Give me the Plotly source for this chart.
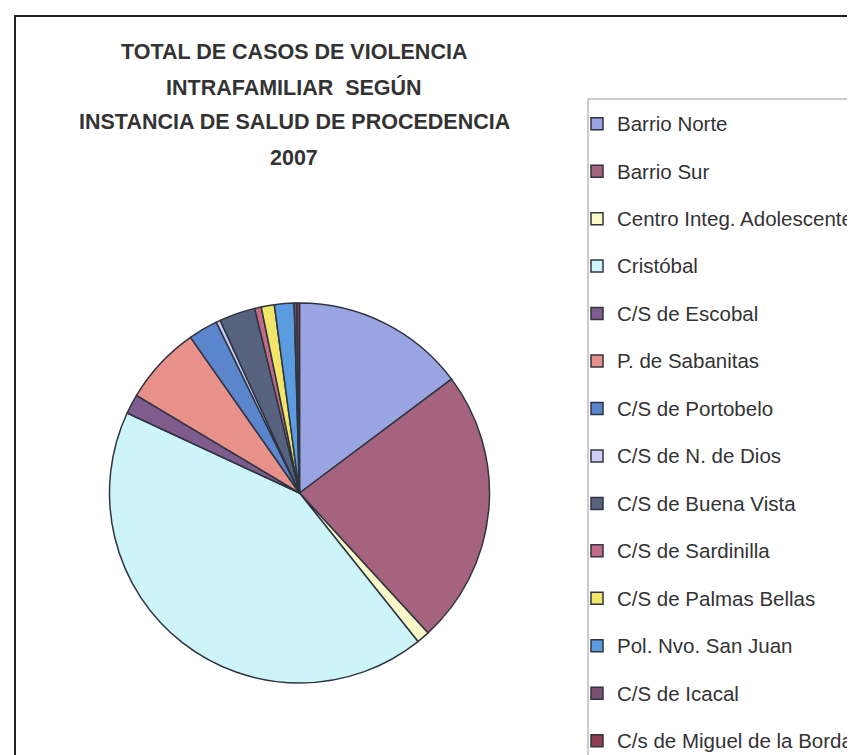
import plotly.graph_objects as go

# ---- data ----
categories = [
    "Barrio Norte", "Barrio Sur", "Centro Integ. Adolescente", "Cristóbal",
    "C/S de Escobal", "P. de Sabanitas", "C/S de Portobelo", "C/S de N. de Dios",
    "C/S de Buena Vista", "C/S de Sardinilla", "C/S de Palmas Bellas",
    "Pol. Nvo. San Juan", "C/S de Icacal", "C/s de Miguel de la Borda",
]
cases = [53, 84, 4, 153, 6, 24, 9, 1.3, 11, 2, 4, 6, 0.8, 0.8]
slice_colors = [
    "#9AA4E2", "#A5637F", "#FAF8C8", "#CDF4F9", "#7E5C8E", "#E8908A", "#5B85CC",
    "#CCCCF5", "#56627E", "#C46A86", "#F2E66A", "#5B9BE0", "#7C5070", "#8E3E50",
]
title_lines = [
    "TOTAL DE CASOS DE VIOLENCIA",
    "INTRAFAMILIAR  SEGÚN",
    "INSTANCIA DE SALUD DE PROCEDENCIA",
    "2007",
]

W, H = 855, 755
FONT = "Liberation Sans, Arial, sans-serif"

legend_labels = [
    f"<span style='font-size:20.5px;baseline-shift:6px'>{c}</span>" for c in categories
]

fig = go.Figure(
    go.Pie(
        labels=legend_labels,
        values=cases,
        sort=False,
        direction="clockwise",
        rotation=0,
        textinfo="none",
        marker=dict(colors=slice_colors, line=dict(color="#2E3440", width=1.5)),
        domain=dict(x=[(291.5 - 190) / W, (291.5 + 190) / W],
                    y=[1 - (485 + 190) / H, 1 - (485 - 190) / H]),
    )
)

# title, one line per annotation
for i, line in enumerate(title_lines):
    fig.add_annotation(
        text=line,
        xref="paper", yref="paper",
        x=286 / W, y=1 - (43.5 + 35.5 * i) / H,
        xanchor="center", yanchor="middle",
        showarrow=False,
        font=dict(family=FONT, size=21.5, color="#333333", weight="bold"),
    )

# outer frame and legend box
fig.add_shape(type="rect", xref="paper", yref="paper",
              x0=7 / W, x1=1.05, y0=-0.05, y1=1 - 8 / H,
              line=dict(color="#222222", width=2), layer="below")
fig.add_shape(type="rect", xref="paper", yref="paper",
              x0=580 / W, x1=1.05, y0=-0.05, y1=1 - 91 / H,
              line=dict(color="#999999", width=1), layer="below")

fig.update_layout(
    width=W, height=H,
    margin=dict(l=0, r=0, t=0, b=0, autoexpand=False),
    paper_bgcolor="white",
    plot_bgcolor="white",
    showlegend=True,
    legend=dict(
        x=569 / W, y=1 - 87 / H, xanchor="left", yanchor="top",
        font=dict(family=FONT, size=34.2, color="#333333"),
        bgcolor="rgba(0,0,0,0)", borderwidth=0,
    ),
)

fig.write_html("out.html")
